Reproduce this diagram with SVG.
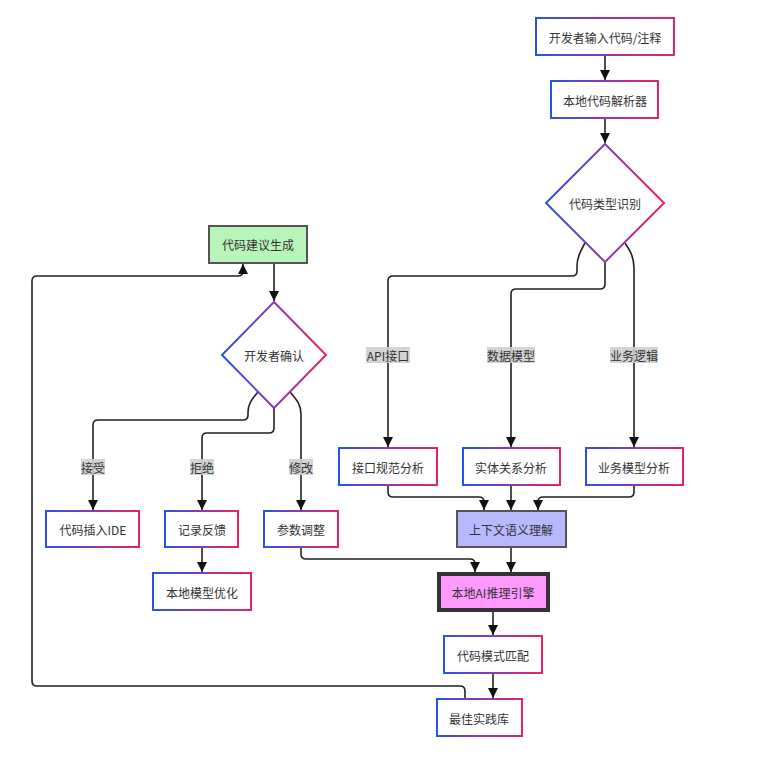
<svg xmlns="http://www.w3.org/2000/svg" width="779" height="759" viewBox="0 0 779 759">
<style>
.t{font-family:"Noto Sans CJK SC","Liberation Sans",sans-serif;font-size:12px;fill:#333;text-anchor:middle;dominant-baseline:central}
.n{fill:#fff;stroke:url(#g);stroke-width:2}
.e{fill:none;stroke:#222;stroke-width:1.6}
.a{marker-end:url(#ah)}
.lb{fill:#cfcfcf;opacity:0.9}
</style>
<defs>
<linearGradient id="g" x1="0" y1="0" x2="1" y2="0">
<stop offset="0" stop-color="#2b52e8"/>
<stop offset="0.5" stop-color="#8a3bb0"/>
<stop offset="1" stop-color="#ea2260"/>
</linearGradient>
<marker id="ah" markerUnits="userSpaceOnUse" viewBox="0 0 10 10" refX="10" refY="5" markerWidth="10" markerHeight="10" orient="auto">
<path d="M0,0 L10,5 L0,10 z" fill="#111"/>
</marker>
</defs>
<g id="connectors">
<path class="e a" d="M605,55 L605,80"/>
<path class="e a" d="M605,118 L605,143"/>
<path class="e a" d="M585,243 C580,252 577,258 577,266 L577,271 Q577,276 572,276 L393,276 Q388,276 388,281 L388,447"/>
<path class="e a" d="M605,262 L605,284 Q605,289 600,289 L516,289 Q511,289 511,294 L511,447"/>
<path class="e a" d="M625,243 C631,252 634,258 634,268 L634,447"/>
<path class="e a" d="M388,485 L388,492 Q388,497 393,497 L479,497 Q484,497 484,502 L484,510"/>
<path class="e a" d="M511,485 L511,510"/>
<path class="e a" d="M634,485 L634,492 Q634,497 629,497 L543,497 Q538,497 538,502 L538,510"/>
<path class="e a" d="M511,547 L511,572"/>
<path class="e a" d="M301,547 L301,554 Q301,559 306,559 L470,559 Q475,559 475,564 L475,572"/>
<path class="e a" d="M493,611 L493,635"/>
<path class="e a" d="M493,673 L493,698"/>
<path class="e a" d="M465,699 L465,691 Q465,686 460,686 L37,686 Q32,686 32,681 L32,281 Q32,276 37,276 L238,276 Q243,276 243,271 L243,264"/>
<path class="e a" d="M274,263 L274,301"/>
<path class="e a" d="M258,392 C251,400 248,405 248,412 L248,415 Q248,420 243,420 L98,420 Q93,420 93,425 L93,510"/>
<path class="e a" d="M274,408 L274,428 Q274,433 269,433 L207,433 Q202,433 202,438 L202,510"/>
<path class="e a" d="M290,392 C297,400 301,405 301,414 L301,510"/>
<path class="e a" d="M202,547 L202,572"/>
<rect class="lb" x="366" y="347" width="44" height="16"/><text class="t" x="388" y="355">API接口</text>
<rect class="lb" x="487" y="347" width="48" height="16"/><text class="t" x="511" y="355">数据模型</text>
<rect class="lb" x="610" y="347" width="48" height="16"/><text class="t" x="634" y="355">业务逻辑</text>
<rect class="lb" x="81" y="459" width="24" height="16"/><text class="t" x="93" y="467">接受</text>
<rect class="lb" x="190" y="459" width="24" height="16"/><text class="t" x="202" y="467">拒绝</text>
<rect class="lb" x="289" y="459" width="24" height="16"/><text class="t" x="301" y="467">修改</text>
</g>
<g id="n1"><rect class="n" x="536" y="18" width="138" height="37"/><text class="t" x="605" y="37">开发者输入代码/注释</text></g>
<g id="n2"><rect class="n" x="551" y="81" width="107" height="37"/><text class="t" x="605" y="100">本地代码解析器</text></g>
<g id="n3"><path class="n" d="M605,144 L664,203 L605,262 L546,203 Z"/><text class="t" x="605" y="203">代码类型识别</text></g>
<g id="n4"><rect class="n" x="339" y="448" width="98" height="37"/><text class="t" x="388" y="467">接口规范分析</text></g>
<g id="n5"><rect class="n" x="463" y="448" width="97" height="37"/><text class="t" x="511" y="467">实体关系分析</text></g>
<g id="n6"><rect class="n" x="586" y="448" width="97" height="37"/><text class="t" x="634" y="467">业务模型分析</text></g>
<g id="n7"><rect x="457" y="511" width="109" height="36" fill="#b8b8ff" stroke="#555" stroke-width="2"/><text class="t" x="511" y="529">上下文语义理解</text></g>
<g id="n8"><rect x="439" y="574" width="109" height="36" fill="#ff99ff" stroke="#333" stroke-width="4"/><text class="t" x="493" y="592">本地AI推理引擎</text></g>
<g id="n9"><rect class="n" x="444" y="636" width="98" height="37"/><text class="t" x="493" y="655">代码模式匹配</text></g>
<g id="n10"><rect class="n" x="437" y="699" width="85" height="37"/><text class="t" x="479" y="718">最佳实践库</text></g>
<g id="n11"><rect x="209" y="226" width="98" height="37" fill="#b8f5b8" stroke="#555" stroke-width="2"/><text class="t" x="258" y="244">代码建议生成</text></g>
<g id="n12"><path class="n" d="M274,302 L326,355 L274,408 L222,355 Z"/><text class="t" x="274" y="355">开发者确认</text></g>
<g id="n13"><rect class="n" x="46" y="511" width="93" height="36"/><text class="t" x="93" y="529">代码插入IDE</text></g>
<g id="n14"><rect class="n" x="165" y="511" width="73" height="36"/><text class="t" x="202" y="529">记录反馈</text></g>
<g id="n15"><rect class="n" x="264" y="511" width="74" height="36"/><text class="t" x="301" y="529">参数调整</text></g>
<g id="n16"><rect class="n" x="153" y="573" width="98" height="37"/><text class="t" x="202" y="592">本地模型优化</text></g>
</svg>
